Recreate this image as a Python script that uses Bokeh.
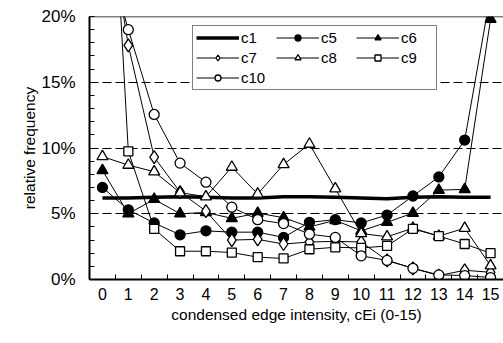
from bokeh.plotting import figure
from bokeh.models import FixedTicker, Range1d, Legend, LegendItem, Span
from bokeh.embed import file_html
from bokeh.resources import INLINE

cats = list(range(16))
c1 = [6.2, 6.2, 6.25, 6.3, 6.25, 6.2, 6.2, 6.3, 6.3, 6.25, 6.2, 6.15, 6.25, 6.3, 6.25, 6.25]
c5 = [7.0, 5.3, 4.3, 3.4, 3.7, 3.6, 3.6, 3.2, 4.35, 4.55, 4.3, 4.9, 6.35, 7.8, 10.6, 21.7]
c6 = [8.3, 5.0, 6.1, 5.0, 5.1, 4.65, 5.05, 4.7, 4.0, 4.5, 3.7, 4.35, 5.05, 6.8, 6.85, 19.8]
c7 = [30.0, 17.8, 9.3, 6.65, 5.2, 3.0, 3.05, 2.7, 2.85, 2.9, 2.85, 1.45, 0.85, 0.3, 0.7, 0.55]
c8 = [9.35, 8.7, 8.2, 6.6, 6.3, 8.55, 6.5, 8.75, 10.3, 6.9, 3.5, 3.25, 3.9, 3.3, 3.9, 1.05]
c9 = [45.0, 9.75, 3.85, 2.15, 2.15, 2.05, 1.7, 1.6, 2.3, 2.45, 2.4, 2.55, 3.85, 3.3, 2.7, 2.0]
c10 = [26.0, 19.0, 12.55, 8.85, 7.4, 5.5, 4.55, 4.25, 3.45, 3.2, 1.8, 1.45, 0.85, 0.35, 0.3, 0.15]
y_ticks = [0, 5, 10, 15, 20]
y_tick_labels = ["0%", "5%", "10%", "15%", "20%"]

FONT = "Liberation Sans"

p = figure(width=503, height=343, output_backend="svg", toolbar_location=None,
           x_range=Range1d(-0.5, 15.5), y_range=Range1d(0, 20),
           min_border_left=89, min_border_right=0, min_border_top=16, min_border_bottom=64)
p.background_fill_color = "white"
p.border_fill_color = "white"
p.outline_line_color = None

# axes
xa = p.xaxis[0]
xa.ticker = FixedTicker(ticks=cats, minor_ticks=[i + 0.5 for i in range(-1, 16)])
xa.major_tick_in = 0
xa.major_tick_out = 0
xa.minor_tick_in = 5
xa.minor_tick_out = 0
xa.minor_tick_line_color = "black"
xa.axis_line_color = "black"
xa.axis_line_width = 2
xa.major_label_text_font = FONT
xa.major_label_text_font_size = "16px"
xa.major_label_text_color = "black"
xa.major_label_standoff = 8
xa.axis_label = "condensed edge intensity, cEi (0-15)"
xa.axis_label_text_font = FONT
xa.axis_label_text_font_size = "15.5px"
xa.axis_label_text_font_style = "normal"
xa.axis_label_standoff = 3
xa.axis_label_text_color = "black"

ya = p.yaxis[0]
ya.ticker = FixedTicker(ticks=y_ticks, minor_ticks=[i for i in range(21) if i % 5 != 0])
ya.major_label_overrides = {t: l for t, l in zip(y_ticks, y_tick_labels)}
ya.major_tick_in = 5
ya.major_tick_out = 0
ya.minor_tick_in = 5
ya.minor_tick_out = 0
ya.major_tick_line_color = "black"
ya.minor_tick_line_color = "black"
ya.axis_line_color = "black"
ya.axis_line_width = 2
ya.major_label_text_font = FONT
ya.major_label_text_font_size = "17px"
ya.major_label_text_color = "black"
ya.major_label_standoff = 14
ya.axis_label = "relative frequency"
ya.axis_label_text_font = FONT
ya.axis_label_text_font_size = "15.5px"
ya.axis_label_text_font_style = "normal"
ya.axis_label_standoff = 0
ya.axis_label_text_color = "black"

p.xgrid.visible = False
p.ygrid.ticker = FixedTicker(ticks=[5, 10, 15])
p.ygrid.grid_line_color = "black"
p.ygrid.grid_line_dash = "9 4"
p.ygrid.grid_line_width = 1

p.add_layout(Span(location=20, dimension="width", line_color="black", line_width=1.5))

items = []
r = p.line(cats, c1, line_color="black", line_width=3.5)
items.append(LegendItem(label="c1", renderers=[r]))

series = [
    ("c5", c5, "circle", 10, "black"),
    ("c6", c6, "triangle", 11, "black"),
    ("c7", c7, "diamond", 13, "white"),
    ("c8", c8, "triangle", 11, "white"),
    ("c9", c9, "square", 9, "white"),
    ("c10", c10, "circle", 10, "white"),
]
for name, vals, marker, size, fill in series:
    l = p.line(cats, vals, line_color="black", line_width=1)
    s = p.scatter(cats, vals, marker=marker, size=size, fill_color=fill,
                  line_color="black", line_width=1.3)
    items.append(LegendItem(label=name, renderers=[l, s]))

legend = Legend(items=items, orientation="horizontal", ncols=3,
                location=(103, 189))
legend.label_text_font = FONT
legend.label_text_font_size = "15px"
legend.label_text_color = "black"
legend.glyph_width = 43
legend.glyph_height = 15
legend.label_height = 15
legend.label_width = 32
legend.label_standoff = 2
legend.spacing = 3
legend.padding = 3
legend.margin = 0
legend.border_line_color = "black"
legend.border_line_width = 1
legend.background_fill_color = "white"
legend.background_fill_alpha = 1
p.add_layout(legend, "center")

open("out.html", "w").write(file_html(p, INLINE))
